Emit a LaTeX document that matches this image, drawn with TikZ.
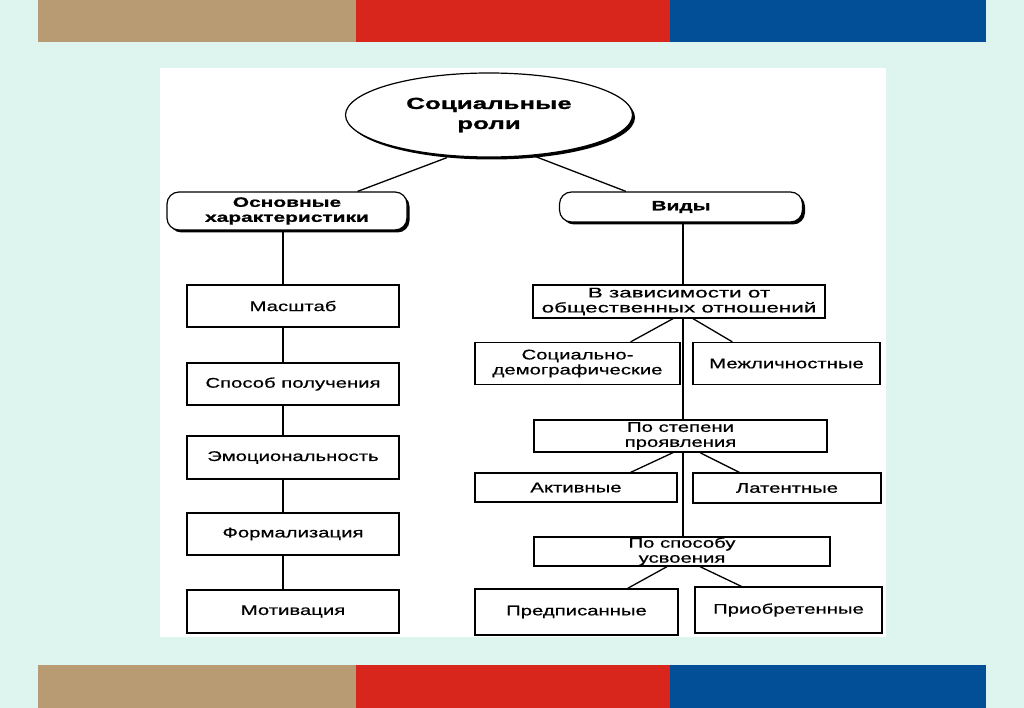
\documentclass[tikz,border=0pt]{standalone}
\usepackage{fontspec}
\setmainfont{Liberation Sans}
\newfontfamily\wfont[FakeStretch=1.45,FakeBold=0.6]{Liberation Sans}
\newfontfamily\wwfont[FakeStretch=1.6,FakeBold=0.6]{Liberation Sans}
\newfontfamily\hfont[FakeStretch=1.55,BoldFeatures={FakeBold=1}]{Liberation Sans}
\newfontfamily\tfont[FakeStretch=1.62,BoldFeatures={FakeBold=1.2}]{Liberation Sans}
\usetikzlibrary{shapes.geometric,shadows,calc}
\definecolor{bgc}{HTML}{DDF4EF}
\definecolor{tanc}{HTML}{B89B72}
\definecolor{redc}{HTML}{D9261D}
\definecolor{bluec}{HTML}{034F97}
\begin{document}
\begin{tikzpicture}[x=1pt,y=-1pt,
  ell/.style={ellipse,draw,line width=1.2pt,fill=white,inner sep=0pt,
    drop shadow={shadow xshift=2.5pt,shadow yshift=-2.5pt,fill=black,opacity=1},
    align=center,font=\tfont\bfseries\fontsize{16}{20}\selectfont},
  rbox/.style={rectangle,rounded corners=12pt,draw,line width=1.2pt,fill=white,inner sep=0pt,
    drop shadow={shadow xshift=2.5pt,shadow yshift=-2.5pt,fill=black,opacity=1},
    align=center,font=\hfont\bfseries\fontsize{13.5}{15}\selectfont},
  box/.style={rectangle,draw,line width=1.3pt,fill=white,inner sep=0pt,
    align=center,font=\wfont\fontsize{14}{16}\selectfont},
  conn/.style={line width=1.3pt}]
\useasboundingbox (0,0) rectangle (1024,708);
\fill[bgc] (0,0) rectangle (1024,708);
% bars
\fill[tanc] (38,0) rectangle (356,42);
\fill[redc] (356,0) rectangle (670,42);
\fill[bluec] (670,0) rectangle (986,42);
\fill[tanc] (38,665) rectangle (356,708);
\fill[redc] (356,665) rectangle (670,708);
\fill[bluec] (670,665) rectangle (986,708);
% panel
\fill[white] (160,68) rectangle (886,637);

\coordinate (lx) at (283,0);
\coordinate (rx) at (683,0);

\node[ell,minimum width=287pt,minimum height=84pt] (root) at (489,115) {Социальные\\роли};
\node[rbox,minimum width=240pt,minimum height=38pt] (osn) at (287,211) {Основные\\характеристики};
\node[rbox,minimum width=243pt,minimum height=30pt] (vid) at (681,207) {Виды};

% left column
\node[box,minimum width=212pt,minimum height=42pt] (mas) at (293,306) {Масштаб};
\node[box,minimum width=212pt,minimum height=42pt] (spo) at (293,384) {Способ получения};
\node[box,minimum width=212pt,minimum height=43pt] (emo) at (293,457.5) {Эмоциональность};
\node[box,minimum width=212pt,minimum height=42pt] (frm) at (293,534) {Формализация};
\node[box,minimum width=212pt,minimum height=43pt] (mot) at (293,611.5) {Мотивация};

% right column
\node[box,minimum width=292pt,minimum height=33pt,font=\wwfont\fontsize{14}{15}\selectfont] (vz) at (679,301.5) {В зависимости от\\общественных отношений};
\node[box,minimum width=205pt,minimum height=42pt,font=\wfont\fontsize{14}{15}\selectfont] (sd) at (577.5,363.5) {Социально-\\демографические};
\node[box,minimum width=187pt,minimum height=42pt] (mz) at (786.5,363.5) {Межличностные};
\node[box,minimum width=293pt,minimum height=32pt,font=\wfont\fontsize{14}{15}\selectfont] (ps) at (680.5,436) {По степени\\проявления};
\node[box,minimum width=202pt,minimum height=29pt] (ak) at (576,487.5) {Активные};
\node[box,minimum width=188pt,minimum height=30pt] (lt) at (787,488) {Латентные};
\node[box,minimum width=296pt,minimum height=29pt,font=\wfont\fontsize{14}{15}\selectfont] (pu) at (682,551.5) {По способу\\усвоения};
\node[box,minimum width=203pt,minimum height=46pt] (pr) at (576.5,612) {Предписанные};
\node[box,minimum width=187pt,minimum height=46pt] (pb) at (788.5,610) {Приобретенные};

% connectors top
\draw[conn] ($(root.south)+(-42,0)$) -- ($(osn.north east)+(-50,0)$);
\draw[conn] ($(root.south)+(44,-2)$) -- ($(vid.north west)+(67,0)$);
% left spine
\draw[conn] (osn.south -| lx) -- (mas.north -| lx);
\draw[conn] (mas.south -| lx) -- (spo.north -| lx);
\draw[conn] (spo.south -| lx) -- (emo.north -| lx);
\draw[conn] (emo.south -| lx) -- (frm.north -| lx);
\draw[conn] (frm.south -| lx) -- (mot.north -| lx);
% right spine
\draw[conn] (vid.south -| rx) -- (vz.north -| rx);
\draw[conn] (vz.south -| rx) -- (ps.north -| rx);
\draw[conn] (ps.south -| rx) -- (pu.north -| rx);
% diagonals
\draw[conn] ($(vz.south -| rx)+(-10,0)$) -- ($(sd.north east)+(-50,0)$);
\draw[conn] ($(vz.south -| rx)+(10,0)$) -- ($(mz.north west)+(40,0)$);
\draw[conn] ($(ps.south -| rx)+(-10,0)$) -- ($(ak.north east)+(-47,0)$);
\draw[conn] ($(ps.south -| rx)+(17,0)$) -- ($(lt.north west)+(47,0)$);
\draw[conn] ($(pu.south -| rx)+(-16,0)$) -- ($(pr.north east)+(-51,0)$);
\draw[conn] ($(pu.south -| rx)+(17,0)$) -- ($(pb.north west)+(47,0)$);
\end{tikzpicture}
\end{document}
